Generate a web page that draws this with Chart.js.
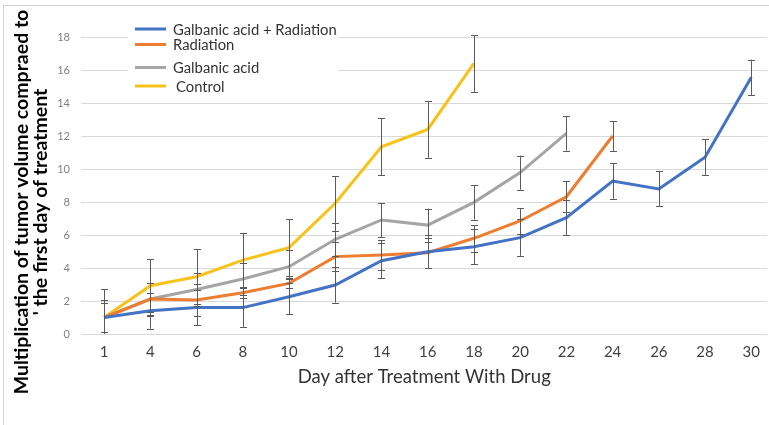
<!DOCTYPE html>
<html>
<head>
<meta charset="utf-8">
<script src="https://cdn.jsdelivr.net/npm/chart.js@4/dist/chart.umd.min.js"></script>
<style>
  html, body { margin: 0; padding: 0; background: #ffffff; }
  #wrap { width: 769px; height: 425px; }
</style>
</head>
<body>
<div id="wrap"><canvas id="c" width="769" height="425"></canvas></div>
<script>
// Days on which tumor volume was measured
const days = [1, 4, 6, 8, 10, 12, 14, 16, 18, 20, 22, 24, 26, 28, 30];
const yTicks = [0, 2, 4, 6, 8, 10, 12, 14, 16, 18];

const seriesNames = ['Galbanic acid + Radiation', 'Radiation', 'Galbanic acid', 'Control'];

// Fold change of tumor volume relative to day 1 (mean) and error (±)
const comboValues = [1.0, 1.41, 1.6, 1.6, 2.26, 2.97, 4.44, 4.99, 5.29, 5.84, 7.05, 9.27, 8.79, 10.71, 15.56];
const comboErrors = [0.9, 1.09, 1.07, 1.16, 1.05, 1.07, 1.07, 1.0, 1.07, 1.1, 1.07, 1.07, 1.06, 1.08, 1.07];

const radiationValues = [1.0, 2.12, 2.06, 2.5, 3.07, 4.69, 4.79, 4.93, 5.8, 6.85, 8.32, 12.0];
const radiationErrors = [0.9, 1.0, 0.95, 0.3, 0.3, 0.9, 0.9, 0.9, 0.8, 0.77, 0.95, 0.9];

const galbanicValues = [1.0, 2.12, 2.7, 3.33, 4.08, 5.74, 6.91, 6.6, 7.98, 9.78, 12.16];
const galbanicErrors = [1.06, 0.95, 1.0, 0.95, 1.0, 1.0, 1.03, 1.0, 1.05, 1.03, 1.05];

const controlValues = [1.0, 2.93, 3.47, 4.48, 5.23, 7.92, 11.35, 12.4, 16.4];
const controlErrors = [1.7, 1.62, 1.68, 1.65, 1.72, 1.65, 1.72, 1.72, 1.72];

const colors = ['#4472C4', '#ED7D31', '#A5A5A5', '#F7C21A'];

function toPoints(values) {
  return values.map((v, i) => ({ x: i, y: v }));
}

const datasets = [
  { label: seriesNames[0], data: toPoints(comboValues), errors: comboErrors },
  { label: seriesNames[1], data: toPoints(radiationValues), errors: radiationErrors },
  { label: seriesNames[2], data: toPoints(galbanicValues), errors: galbanicErrors },
  { label: seriesNames[3], data: toPoints(controlValues), errors: controlErrors }
].map((d, i) => Object.assign(d, {
  borderColor: colors[i],
  backgroundColor: colors[i],
  borderWidth: 3,
  pointRadius: 0,
  pointHoverRadius: 0,
  tension: 0,
  fill: false
}));

// Outer frame of the figure
const framePlugin = {
  id: 'frame',
  beforeDraw(chart) {
    const ctx = chart.ctx;
    ctx.save();
    ctx.fillStyle = '#ffffff';
    ctx.fillRect(0, 0, chart.width, chart.height);
    ctx.strokeStyle = '#d4d4d4';
    ctx.lineWidth = 1;
    ctx.strokeRect(3.5, 5.5, 900, 600);
    ctx.restore();
  }
};

// Vertical error bars with caps, computed from each dataset's errors array
const errorBarPlugin = {
  id: 'errorBars',
  afterDatasetsDraw(chart) {
    const ctx = chart.ctx;
    const area = chart.chartArea;
    const xs = chart.scales.x, ys = chart.scales.y;
    ctx.save();
    ctx.beginPath();
    ctx.rect(area.left, area.top - 4, area.right - area.left, area.bottom - area.top + 4);
    ctx.clip();
    ctx.strokeStyle = '#5a5a5a';
    ctx.lineWidth = 1;
    chart.data.datasets.forEach(ds => {
      ds.data.forEach((p, i) => {
        const e = ds.errors[i];
        if (!e) return;
        const x = Math.round(xs.getPixelForValue(p.x)) + 0.5;
        const yTop = ys.getPixelForValue(p.y + e);
        const yBot = ys.getPixelForValue(p.y - e);
        ctx.beginPath();
        ctx.moveTo(x, yTop);
        ctx.lineTo(x, yBot);
        ctx.moveTo(x - 3.5, Math.round(yTop) + 0.5);
        ctx.lineTo(x + 3.5, Math.round(yTop) + 0.5);
        ctx.moveTo(x - 3.5, Math.round(yBot) + 0.5);
        ctx.lineTo(x + 3.5, Math.round(yBot) + 0.5);
        ctx.stroke();
      });
    });
    ctx.restore();
  }
};

// Two-line rotated title of the value axis
const yTitleLines = ['Multiplication of tumor volume compraed to', '\' the first day of treatment'];
const yTitlePlugin = {
  id: 'yTitle',
  afterDraw(chart) {
    const ctx = chart.ctx;
    ctx.save();
    ctx.fillStyle = '#000000';
    ctx.font = 'bold 19.5px Lato, "Open Sans", sans-serif';
    ctx.textAlign = 'center';
    ctx.textBaseline = 'middle';
    const cy = 202;
    [22, 41].forEach((cx, k) => {
      ctx.save();
      ctx.translate(cx, cy);
      ctx.rotate(-Math.PI / 2);
      ctx.fillText(yTitleLines[k], 0, 0);
      ctx.restore();
    });
    ctx.restore();
  }
};

// Legend box in the upper-left of the plot
const legendRows = [29, 44.5, 67.5, 86];
const legendPlugin = {
  id: 'boxLegend',
  afterDraw(chart) {
    const ctx = chart.ctx;
    ctx.save();
    ctx.fillStyle = '#ffffff';
    ctx.fillRect(128, 20, 211, 76);
    ctx.font = '14.8px Lato, "Open Sans", sans-serif';
    ctx.textBaseline = 'middle';
    ctx.textAlign = 'left';
    chart.data.datasets.forEach((ds, i) => {
      const y = legendRows[i];
      ctx.strokeStyle = ds.borderColor;
      ctx.lineWidth = 3;
      ctx.beginPath();
      ctx.moveTo(135, y);
      ctx.lineTo(166, y);
      ctx.stroke();
      ctx.fillStyle = '#333333';
      ctx.fillText(ds.label, i === 3 ? 176 : 173, y + 1);
    });
    ctx.restore();
  }
};

new Chart(document.getElementById('c'), {
  type: 'line',
  data: { datasets },
  options: {
    responsive: false,
    animation: false,
    events: [],
    layout: { padding: { top: 37, right: 0, bottom: 0, left: 0 } },
    plugins: {
      legend: { display: false },
      tooltip: { enabled: false },
      title: { display: false }
    },
    scales: {
      x: {
        type: 'linear',
        min: -0.5,
        max: 14.35,
        afterBuildTicks: axis => { axis.ticks = days.map((d, i) => ({ value: i })); },
        afterFit: axis => { axis.height = 91; },
        grid: { display: false, drawTicks: false },
        border: { display: false },
        ticks: {
          autoSkip: false,
          maxRotation: 0,
          padding: 9,
          color: '#404040',
          font: { family: 'Lato', size: 15 },
          callback: (value, index) => days[index]
        },
        title: {
          display: true,
          text: 'Day after Treatment With Drug',
          color: '#333333',
          font: { family: 'Lato', size: 18.5 },
          padding: { top: 4, bottom: 37 }
        }
      },
      y: {
        min: 0,
        max: 18,
        afterBuildTicks: axis => { axis.ticks = yTicks.map(v => ({ value: v })); },
        afterFit: axis => { axis.width = 81; },
        grid: { color: '#d9d9d9', lineWidth: 1, drawTicks: false },
        border: { display: false },
        ticks: {
          padding: 11,
          color: '#7f7f7f',
          font: { family: 'Lato', size: 11 }
        }
      }
    }
  },
  plugins: [framePlugin, errorBarPlugin, yTitlePlugin, legendPlugin]
});
</script>
</body>
</html>
